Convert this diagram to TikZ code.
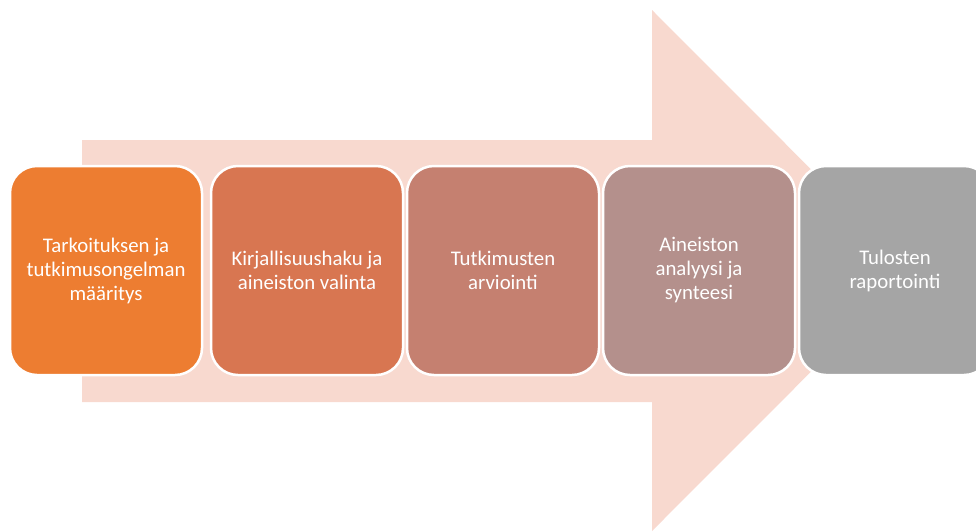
\documentclass[tikz,border=0pt]{standalone}
\usepackage{fontspec}
\setmainfont{Carlito}
\usepackage{xcolor}
\usepackage{tikz}
\usetikzlibrary{positioning}
\definecolor{arrowpeach}{HTML}{F8D9CF}
\definecolor{stepone}{HTML}{ED7D31}
\definecolor{steptwo}{HTML}{D87651}
\definecolor{stepthree}{HTML}{C58070}
\definecolor{stepfour}{HTML}{B4908C}
\definecolor{stepfive}{HTML}{A5A5A5}
\tikzset{
  phase/.style={draw=white,line width=2.5pt,rounded corners=27pt,
    minimum width=192pt,minimum height=209pt,inner sep=0pt,
    align=center,text=white,font=\fontsize{20.8}{24}\selectfont}
}

\begin{document}
\begin{tikzpicture}[x=1pt,y=-1pt]
  \useasboundingbox (0,0) rectangle (976,531);
  % Background arrow
  \fill[arrowpeach] (82,140) -- (652,140) -- (652,10) -- (912,270.5)
    -- (652,531) -- (652,402) -- (82,402) -- cycle;

  % Process steps
  \node[phase,fill=stepone] (maaritys) at (106,270.5)
    {Tarkoituksen ja\\tutkimusongelman\\määritys};
  \node[phase,fill=steptwo] (haku) at (307,270.5)
    {Kirjallisuushaku ja\\aineiston valinta};
  \node[phase,fill=stepthree] (arviointi) at (503,270.5)
    {Tutkimusten\\arviointi};
  \node[phase,fill=stepfour] (analyysi) at (699,270.5)
    {Aineiston\\analyysi ja\\synteesi};
  \node[phase,fill=stepfive] (raportointi) at (895,270.5)
    {Tulosten\\raportointi};
\end{tikzpicture}
\end{document}
